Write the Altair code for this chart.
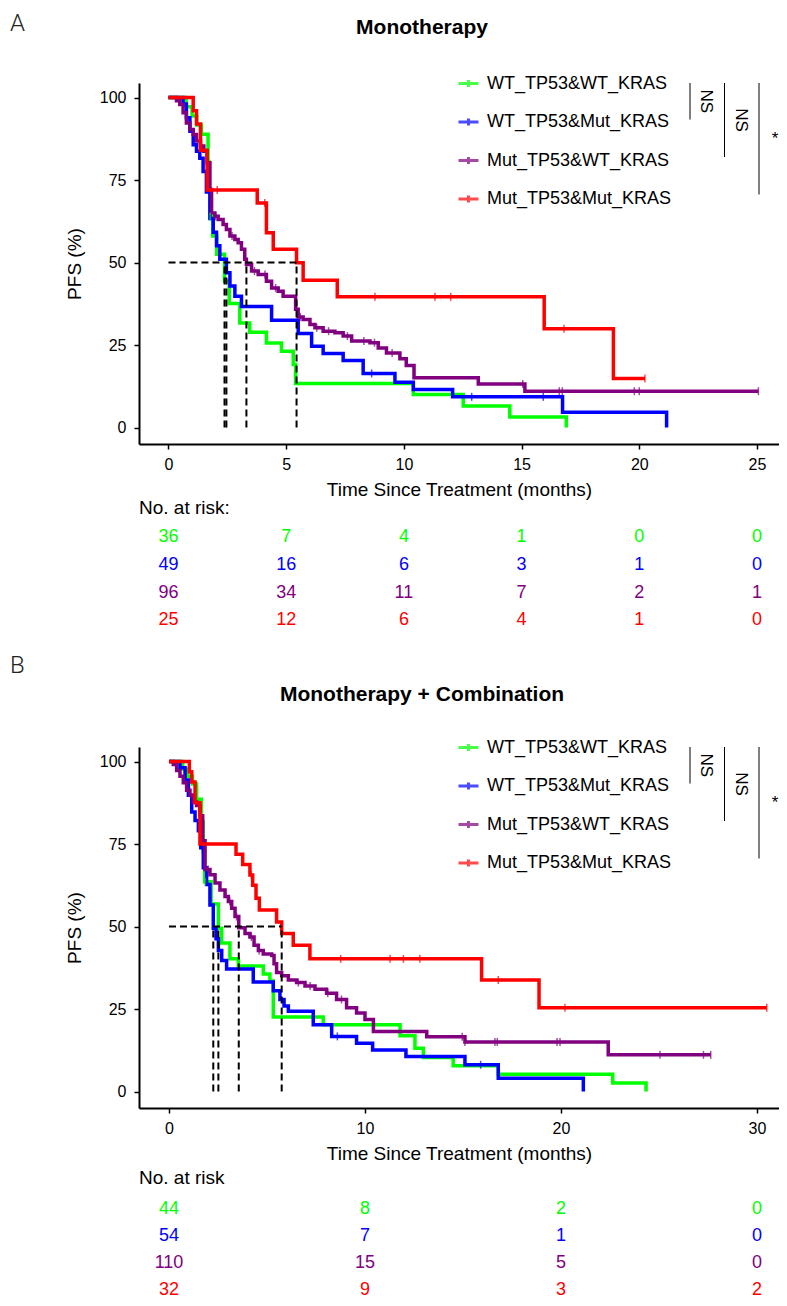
import altair as alt
import pandas as pd

FONT = "Liberation Sans"
GROUPS = ["WT_TP53&WT_KRAS", "WT_TP53&Mut_KRAS", "Mut_TP53&WT_KRAS", "Mut_TP53&Mut_KRAS"]
COLORS = ["#00ff00", "#0000ff", "#800080", "#ff0000"]

# ---------------- Panel A: Monotherapy ----------------
A_WTWT_T = [0, 0.75, 1.0, 1.2, 1.4, 1.68, 1.72, 1.76, 1.88, 2.05, 2.38, 2.58, 3.03, 3.45, 4.16, 4.8, 5.3, 5.4, 10.4, 12.52, 14.5, 16.9]
A_WTWT_S = [100, 97.2, 94.4, 91.7, 88.9, 80.6, 72.2, 63.9, 58.0, 52.5, 44.4, 37.6, 31.7, 28.9, 25.6, 23.1, 19.1, 13.3, 10.0, 6.5, 3.2, 0]
A_WTWT_C = [1.77]

A_WTMUT_T = [0, 0.62, 0.76, 0.91, 1.05, 1.19, 1.33, 1.47, 1.61, 1.76, 1.90, 2.04, 2.18, 2.46, 2.61, 2.82, 3.10, 4.38, 5.51, 6.08, 6.57, 7.42, 8.27, 9.62, 10.40, 12.07, 16.74, 21.16]
A_WTMUT_S = [100, 98.0, 93.9, 89.8, 85.7, 83.7, 81.6, 77.6, 71.4, 63.3, 59.2, 55.1, 51.0, 46.9, 42.9, 39.8, 36.7, 32.5, 28.5, 24.6, 22.4, 20.3, 16.4, 13.7, 11.5, 9.3, 4.65, 0]
A_WTMUT_C = [8.63, 12.88, 15.92]

A_MUTWT_T = [0, 0.34, 0.48, 0.62, 0.76, 0.91, 1.05, 1.19, 1.36, 1.50, 1.64, 1.76, 1.83, 1.97, 2.11, 2.32, 2.46, 2.61, 2.82, 2.96, 3.10, 3.24, 3.31, 3.53, 3.81, 4.16, 4.38, 4.66, 4.87, 5.40, 5.51, 5.72, 6.01, 6.22, 6.57, 7.07, 7.42, 7.78, 8.56, 8.91, 9.26, 9.83, 10.10, 10.43, 13.16, 15.14, 25.06]
A_MUTWT_S = [100, 99.0, 97.9, 95.4, 92.3, 90.3, 88.8, 86.8, 85.3, 83.7, 80.2, 72.1, 65.0, 64.0, 63.0, 61.5, 60.0, 58.0, 57.0, 56.0, 54.0, 51.0, 49.4, 47.4, 46.4, 44.3, 42.3, 41.3, 39.8, 35.8, 33.5, 32.7, 31.2, 30.2, 29.2, 28.7, 27.7, 26.2, 25.7, 24.1, 22.6, 20.8, 18.8, 15.05, 13.2, 11.0, 11.0]
A_MUTWT_C = [2.0, 2.7, 3.65, 4.1, 4.55, 5.6, 6.3, 6.8, 7.6, 8.3, 8.75, 9.5, 15.05, 16.6, 16.73, 19.79, 20.0, 25.06]

A_MUTMUT_T = [0, 1.05, 1.19, 1.36, 1.64, 3.77, 4.16, 4.45, 5.44, 5.72, 7.17, 15.96, 18.9, 20.24]
A_MUTMUT_S = [100, 96, 92, 84, 72, 68, 59, 54, 49.9, 44.6, 39.6, 29.9, 14.85, 14.85]
A_MUTMUT_C = [2.07, 4.09, 8.77, 11.32, 11.99, 16.8, 20.24]

A_RISK_T = [0, 5, 10, 15, 20, 25]
A_RISK_N = [[36, 7, 4, 1, 0, 0], [49, 16, 6, 3, 1, 0], [96, 34, 11, 7, 2, 1], [25, 12, 6, 4, 1, 0]]

# ---------------- Panel B: Monotherapy + Combination ----------------
B_WTWT_T = [0, 0.7, 0.95, 1.2, 1.41, 1.65, 1.75, 1.82, 2.15, 2.52, 2.69, 3.11, 3.54, 4.81, 5.15, 5.32, 7.87, 11.79, 12.55, 12.98, 14.5, 16.8, 22.64, 24.34]
B_WTWT_S = [100, 97.7, 95.5, 93.2, 88.6, 81.8, 72.7, 63.6, 56.8, 49.5, 45.0, 40.2, 38.0, 35.6, 33.5, 22.6, 20.2, 16.9, 13.1, 10.3, 7.8, 5.2, 2.6, 0]
B_WTWT_C = [1.84]

B_WTMUT_T = [0, 0.56, 0.82, 0.99, 1.16, 1.33, 1.50, 1.62, 1.75, 1.92, 2.09, 2.26, 2.40, 2.52, 2.69, 2.94, 4.30, 5.32, 5.66, 5.87, 6.09, 7.36, 8.30, 9.57, 10.39, 12.09, 15.1, 16.8, 21.14]
B_WTMUT_S = [100, 98.1, 94.4, 89.8, 84.7, 82.1, 79.0, 73.9, 67.8, 62.7, 56.5, 49.5, 46.3, 42.7, 39.7, 37.1, 33.2, 30.5, 27.9, 25.9, 24.3, 20.2, 16.7, 14.6, 12.6, 10.6, 8.1, 4.0, 0]
B_WTMUT_C = [8.59, 15.9]

B_MUTWT_T = [0, 0.22, 0.39, 0.56, 0.73, 0.90, 1.07, 1.24, 1.41, 1.58, 1.72, 1.84, 2.09, 2.35, 2.60, 2.86, 3.03, 3.20, 3.37, 3.56, 3.88, 4.13, 4.34, 4.56, 4.81, 5.24, 5.36, 5.49, 5.75, 6.09, 6.51, 6.94, 7.45, 8.04, 8.55, 9.06, 9.57, 10.0, 10.43, 13.15, 15.1, 22.41, 27.64]
B_MUTWT_S = [100, 99.1, 97.3, 95.5, 93.6, 91.3, 89.8, 87.7, 86.7, 83.6, 76.0, 67.3, 65.7, 63.2, 61.1, 59.1, 57.6, 55.5, 53.0, 49.6, 47.9, 46.8, 44.3, 42.7, 41.7, 41.2, 38.7, 36.1, 35.1, 33.8, 33.0, 32.0, 31.0, 29.8, 27.9, 25.4, 23.8, 21.8, 18.2, 16.6, 15.0, 11.1, 11.1]
B_MUTWT_C = [2.0, 3.1, 3.45, 4.2, 4.6, 6.6, 7.2, 8.1, 8.8, 14.96, 15.1, 16.63, 16.75, 19.8, 19.95, 25.05, 27.27, 27.64]

B_MUTMUT_T = [0, 1.04, 1.16, 1.33, 1.58, 3.42, 3.76, 4.13, 4.27, 4.44, 4.61, 5.49, 5.75, 6.34, 7.19, 15.95, 18.88, 30.5]
B_MUTMUT_S = [100, 96.9, 93.8, 87.5, 75.0, 71.9, 68.8, 65.6, 62.5, 58.6, 55.0, 51.4, 47.9, 44.3, 40.2, 33.8, 25.4, 25.4]
B_MUTMUT_C = [4.2, 8.76, 11.28, 11.96, 12.8, 16.8, 20.2, 30.5]

B_RISK_T = [0, 10, 20, 30]
B_RISK_N = [[44, 8, 2, 0], [54, 7, 1, 0], [110, 15, 5, 0], [32, 9, 3, 2]]

COMPARISONS = ["NS", "NS", "*"]

# ---------------- layout constants ----------------
W = 640
H = 361
YDOM = [-5.0, 104.4]
A_XDOM = [-1.253, -1.253 + W / 23.54]
B_XDOM = [-1.53, -1.53 + W / 19.6]
LEG_X, LEG_Y, ROW_SP = 318, -11, 37.5
BR_X0, BR_DX = 551, 34.5

color_scale = alt.Scale(domain=GROUPS, range=COLORS)


def curves_df(curves):
    rows = []
    for g, ts, ss, _ in curves:
        for t, s in zip(ts, ss):
            rows.append({"group": g, "t": t, "s": s})
    return pd.DataFrame(rows)


def surv_at(ts, ss, x):
    val = ss[0]
    for t, s in zip(ts, ss):
        if t <= x:
            val = s
        else:
            break
    return val


def censor_df(curves):
    rows = []
    for g, ts, ss, cs in curves:
        for c in cs:
            rows.append({"group": g, "t": c, "s": surv_at(ts, ss, c)})
    return pd.DataFrame(rows)


def median_df(curves):
    meds = []
    for g, ts, ss, _ in curves:
        for t, s in zip(ts, ss):
            if s <= 50:
                meds.append(t)
                break
    rows = [{"t": 0, "t2": max(meds), "s": 50, "s2": 50}]
    rows += [{"t": m, "t2": m, "s": 0, "s2": 50} for m in meds]
    return pd.DataFrame(rows)


def km_panel(letter, title, curves, xdom, xticks, letter_y, title_y):
    legend = alt.Legend(
        title=None, orient="none", legendX=LEG_X, legendY=LEG_Y, padding=0,
        symbolType="M-1,0H1M0,-0.35V0.35", symbolSize=400, symbolStrokeWidth=3,
        labelFont=FONT, labelFontSize=18, labelColor="black", labelOffset=7,
        labelLimit=400, rowPadding=17.5,
    )
    xenc = alt.X("t:Q", scale=alt.Scale(domain=xdom, nice=False, zero=False),
                 axis=alt.Axis(values=xticks, title="Time Since Treatment (months)",
                               labelPadding=7, titlePadding=8))
    yenc = alt.Y("s:Q", scale=alt.Scale(domain=YDOM, nice=False, zero=False),
                 axis=alt.Axis(values=[0, 25, 50, 75, 100], title="PFS (%)",
                               labelPadding=8, titlePadding=15))
    cenc = alt.Color("group:N", scale=color_scale, legend=legend)
    lines = alt.Chart(curves_df(curves)).mark_line(
        interpolate="step-after", strokeWidth=3.5).encode(x=xenc, y=yenc, color=cenc)
    ticks = alt.Chart(censor_df(curves)).mark_tick(
        orient="vertical", size=8, thickness=1.5).encode(x="t:Q", y="s:Q", color=cenc)
    rules = alt.Chart(median_df(curves)).mark_rule(
        color="black", strokeDash=[7, 4], strokeWidth=2).encode(
        x="t:Q", x2="t2:Q", y="s:Q", y2="s2:Q")
    letter_txt = alt.Chart(pd.DataFrame({"label": [letter]})).mark_text(
        align="left", baseline="top", fontSize=24, font="Roboto", fontWeight=300,
        color="#222").encode(
        x=alt.value(-129), y=alt.value(letter_y), text="label:N")
    title_txt = alt.Chart(pd.DataFrame({"label": [title]})).mark_text(
        align="center", baseline="middle", fontSize=21, fontWeight="bold", font=FONT,
        color="black").encode(x=alt.value(283), y=alt.value(title_y), text="label:N")
    layers = [lines, ticks, rules, letter_txt, title_txt]
    row_c = [LEG_Y + 10 + i * ROW_SP for i in range(4)]
    for k, lab in enumerate(COMPARISONS):
        bx = BR_X0 + k * BR_DX
        y0, y1 = row_c[0] + 1, row_c[k + 1]
        layers.append(alt.Chart(pd.DataFrame({"label": [lab]})).mark_rule(
            color="black", strokeWidth=1).encode(
            x=alt.value(bx), y=alt.value(y0), y2=alt.value(y1)))
        layers.append(alt.Chart(pd.DataFrame({"label": [lab]})).mark_text(
            align="center", baseline="middle", fontSize=17, font=FONT, color="black",
            angle=90 if lab != "*" else 0).encode(
            x=alt.value(bx + 16), y=alt.value((y0 + y1) / 2), text="label:N"))
    return alt.layer(*layers).properties(width=W, height=H)


def risk_panel(times, counts, xdom, title, step, offset):
    rows = []
    for g, cs in zip(GROUPS, counts):
        for t, n in zip(times, cs):
            rows.append({"group": g, "t": t, "n": n})
    pad = 0.3
    return alt.Chart(pd.DataFrame(rows)).mark_text(fontSize=18, font=FONT).encode(
        x=alt.X("t:Q", scale=alt.Scale(domain=xdom, nice=False, zero=False), axis=None),
        y=alt.Y("group:N", sort=GROUPS, scale=alt.Scale(type="point", padding=pad), axis=None),
        text="n:Q",
        color=alt.Color("group:N", scale=color_scale, legend=None),
    ).properties(width=W, height=step * (3 + 2 * pad),
                 title=alt.TitleParams(title, anchor="start", frame="group", fontSize=19,
                                       fontWeight="normal", font=FONT, color="black",
                                       offset=offset))


curvesA = [
    (GROUPS[0], A_WTWT_T, A_WTWT_S, A_WTWT_C),
    (GROUPS[1], A_WTMUT_T, A_WTMUT_S, A_WTMUT_C),
    (GROUPS[2], A_MUTWT_T, A_MUTWT_S, A_MUTWT_C),
    (GROUPS[3], A_MUTMUT_T, A_MUTMUT_S, A_MUTMUT_C),
]
curvesB = [
    (GROUPS[0], B_WTWT_T, B_WTWT_S, B_WTWT_C),
    (GROUPS[1], B_WTMUT_T, B_WTMUT_S, B_WTMUT_C),
    (GROUPS[2], B_MUTWT_T, B_MUTWT_S, B_MUTWT_C),
    (GROUPS[3], B_MUTMUT_T, B_MUTMUT_S, B_MUTMUT_C),
]

kmA = km_panel("A", "Monotherapy", curvesA, A_XDOM, [0, 5, 10, 15, 20, 25], -71, -55)
riskA = risk_panel(A_RISK_T, A_RISK_N, A_XDOM, "No. at risk:", 27.7, 10)
kmB = km_panel("B", "Monotherapy + Combination", curvesB, B_XDOM, [0, 10, 20, 30], -93, -52)
riskB = risk_panel(B_RISK_T, B_RISK_N, B_XDOM, "No. at risk", 27, 12)

top = alt.vconcat(kmA, riskA, spacing=0).resolve_scale(color="independent").resolve_legend(color="independent")
bot = alt.vconcat(kmB, riskB, spacing=6).resolve_scale(color="independent").resolve_legend(color="independent")

chart = alt.vconcat(top, bot, spacing=24).resolve_scale(color="independent").resolve_legend(
    color="independent").properties(
    padding={"left": 2, "top": 4, "right": 0, "bottom": 0}).configure_view(
    stroke=None).configure_axis(
    grid=False, domainColor="black", domainWidth=2, tickColor="black", tickWidth=1.5,
    tickSize=5, labelFont=FONT, labelFontSize=16, labelColor="black", titleFont=FONT,
    titleFontSize=19, titleFontWeight="normal", titleColor="black")

chart.save("out.html", embed_options={"renderer": "svg", "actions": False})
